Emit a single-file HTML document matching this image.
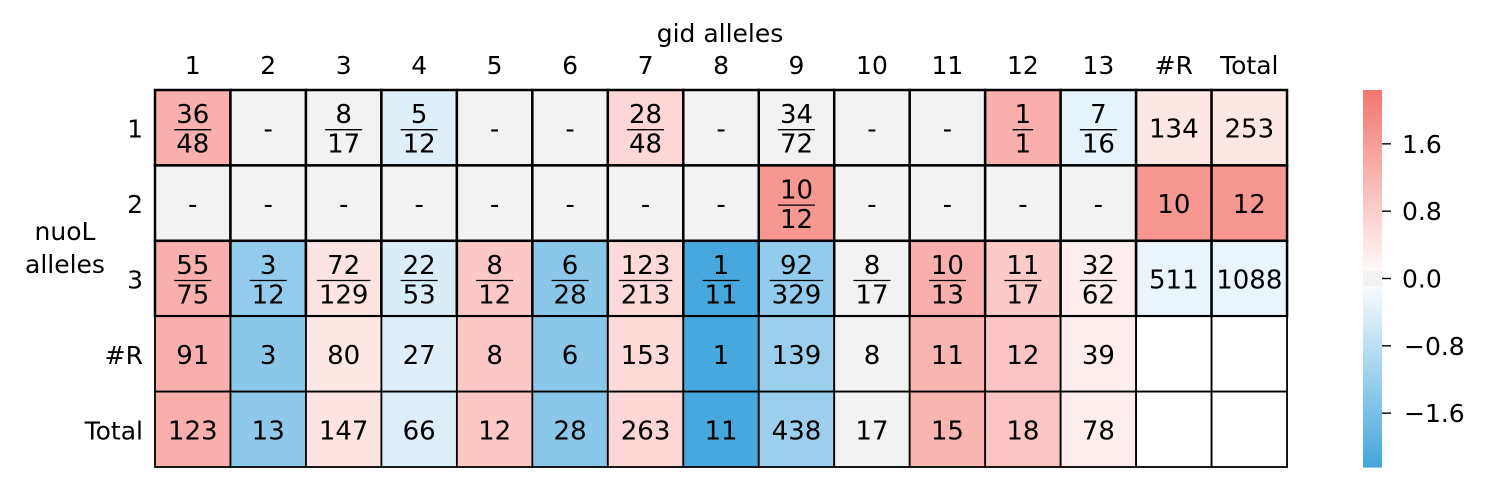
<!DOCTYPE html>
<html><head><meta charset="utf-8"><style>
html,body{margin:0;padding:0;background:#fff;}
svg{display:block;font-family:"DejaVu Sans","Liberation Sans",sans-serif;}
</style></head><body>
<svg id="chart" width="1488" height="491" viewBox="0 0 1488 491">
<g id="cells"></g>
<text x="720" y="42" font-size="25" text-anchor="middle">gid alleles</text>
<text x="65" y="240" font-size="25" text-anchor="middle">nuoL</text>
<text x="65" y="273" font-size="25" text-anchor="middle">alleles</text>
<g id="colorbar"></g>
<g id="cbticks"></g>
</svg>
<script>
const colLabels=["1","2","3","4","5","6","7","8","9","10","11","12","13","#R","Total"];
const rowLabels=["1","2","3","#R","Total"];
const cellText=[
["36/48","-","8/17","5/12","-","-","28/48","-","34/72","-","-","1/1","7/16","134","253"],
["-","-","-","-","-","-","-","-","10/12","-","-","-","-","10","12"],
["55/75","3/12","72/129","22/53","8/12","6/28","123/213","1/11","92/329","8/17","10/13","11/17","32/62","511","1088"],
["91","3","80","27","8","6","153","1","139","8","11","12","39","",""],
["123","13","147","66","12","28","263","11","438","17","15","18","78","",""]];
// null = gray (neutral), "E" = empty white
const scores=[
[1.3,null,null,-0.4,null,null,0.65,null,null,null,null,1.3,-0.3,0.4,0.4],
[null,null,null,null,null,null,null,null,1.7,null,null,null,null,1.7,1.7],
[1.3,-1.3,0.45,-0.45,0.9,-1.4,0.6,-2.2,-1.3,null,1.3,0.85,0.3,-0.25,-0.25],
[1.3,-1.4,0.4,-0.4,0.9,-1.4,0.6,-2.2,-1.2,null,1.2,0.95,0.3,"E","E"],
[1.3,-1.35,0.45,-0.42,0.9,-1.4,0.65,-2.2,-1.2,null,1.2,0.95,0.3,"E","E"]];
const cbTicks=[1.6,0.8,0.0,-0.8,-1.6];
const VMAX=2.24, X0=155, Y0=90, CW=75.47, RH=75.4, CB_X=1363, CB_W=19, CB_TOP=90, CB_BOT=467;
const NS="http://www.w3.org/2000/svg";
function mk(t,a,p){const e=document.createElementNS(NS,t);for(const k in a)e.setAttribute(k,a[k]);p.appendChild(e);return e;}
function color(v){
  if(v===null)return "#f2f2f2"; if(v==="E")return "#ffffff";
  if(Math.abs(v)<0.1)return "#f2f2f2";
  let f=Math.max(-1,Math.min(1,v/VMAX));
  const w=[255,255,255], r=[244,118,110], b=[68,166,220];
  const t=f>=0?r:b, a=Math.abs(f);
  return "rgb("+w.map((c,i)=>Math.round(c+(t[i]-c)*a)).join(",")+")";
}
function cbY(v){return CB_TOP+(VMAX-v)/(2*VMAX)*(CB_BOT-CB_TOP);}
const g=document.getElementById('cells');
const svg=document.getElementById('chart');
for(let r=0;r<rowLabels.length;r++){
  for(let c=0;c<colLabels.length;c++){
    const x=X0+c*CW,y=Y0+r*RH,cx=x+CW/2,cy=y+RH/2;
    const rect=mk('rect',{x:x,y:y,width:CW,height:RH,fill:color(scores[r][c]),stroke:"#000","stroke-width":r<3?2.5:1.8},g);
    
    
    const s=cellText[r][c];
    if(s.indexOf('/')>0){
      const [n,d]=s.split('/');
      const t1=mk('text',{x:cx,y:cy-4.5,"font-size":26,"text-anchor":"middle"},g);t1.textContent=n;
      
      
      const lw=Math.max(n.length,d.length)*16.5+4;
      mk('line',{x1:cx-lw/2,x2:cx+lw/2,y1:cy+2,y2:cy+2,stroke:"#000","stroke-width":1.3},g);
      const t2=mk('text',{x:cx,y:cy+25,"font-size":26,"text-anchor":"middle"},g);t2.textContent=d;
      
      
    } else if(s!==""){
      const t=mk('text',{x:cx,y:cy+10,"font-size":26,"text-anchor":"middle"},g);t.textContent=s;
      
      
    }
  }
}
colLabels.forEach((l,c)=>{
  const t=mk('text',{x:X0+c*CW+CW/2,y:74,"font-size":25,"text-anchor":"middle"},svg);t.textContent=l;
  
  
});
rowLabels.forEach((l,r)=>{
  const t=mk('text',{x:143,y:Y0+r*RH+RH/2+10,"font-size":25,"text-anchor":"end"},svg);t.textContent=l;
  
  
});
const cb=document.getElementById('colorbar');
const N=150;
for(let i=0;i<N;i++){
  const v=VMAX-(i+0.5)*(2*VMAX)/N;
  const y=CB_TOP+i*(CB_BOT-CB_TOP)/N;
  mk('rect',{x:CB_X,y:y,width:CB_W,height:(CB_BOT-CB_TOP)/N+0.6,fill:color(v)},cb);
}
const cbt=document.getElementById('cbticks');
cbTicks.forEach(v=>{
  const y=cbY(v);
  mk('line',{x1:CB_X+CB_W,x2:CB_X+CB_W+9,y1:y,y2:y,stroke:"#000","stroke-width":1.4},cbt);
  const t=mk('text',{x:v<0?1404:1402,y:y+9,"font-size":25},cbt);
  t.textContent=(v<0?"\u2212":"")+Math.abs(v).toFixed(1);
  
  
});
</script>
</body></html>
